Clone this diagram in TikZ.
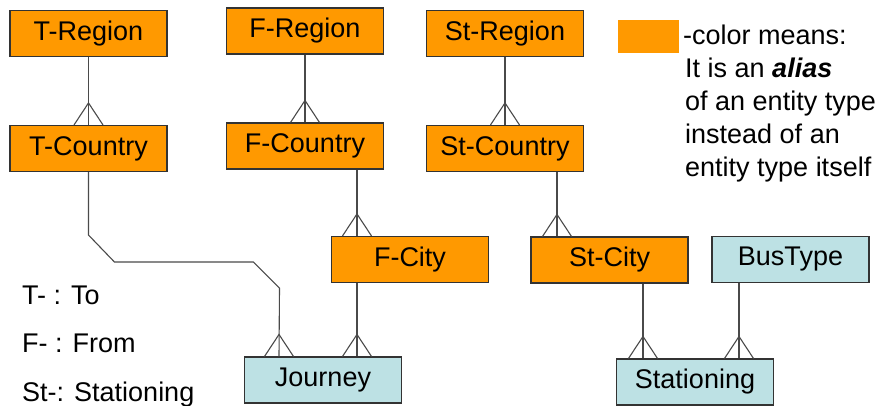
\documentclass[tikz,border=0pt]{standalone}
\usepackage{fontspec}
\setmainfont{Liberation Sans}
\definecolor{aliasorange}{HTML}{FF9900}
\definecolor{entityblue}{HTML}{BDE1E4}
\definecolor{linkgray}{HTML}{4A4A4A}
\begin{document}
\begin{tikzpicture}[x=1pt,y=-1pt,
  every node/.style={inner sep=0pt, font=\fontsize{27}{32}\selectfont},
  entbox/.style={draw=black!80, line width=1.1pt, minimum width=157pt, minimum height=46pt},
  alias/.style={entbox, fill=aliasorange},
  entity/.style={entbox, fill=entityblue},
  link/.style={draw=linkgray, line width=1.1pt},
  crow/.pic={\draw[link] (-14.5,0) -- (0,-22) -- (14.5,0);},
  legend/.style={anchor=base west}
]
\useasboundingbox (0,0) rectangle (881,406);
\fill[white] (0,0) rectangle (881,406);

% alias entity boxes
\node[alias] (tr) at (88.5,33.5) {T-Region};
\node[alias] (tc) at (88.5,148.5) {T-Country};
\node[alias] (fr) at (305,31) {F-Region};
\node[alias] (fc) at (305,146) {F-Country};
\node[alias] (sr) at (505,33.5) {St-Region};
\node[alias] (sc) at (505,148.5) {St-Country};
\node[alias] (fci) at (410,259.5) {F-City};
\node[alias] (sci) at (609.5,260) {St-City};

% real entity types
\node[entity] (bt) at (790.5,259.5) {BusType};
\node[entity] (jo) at (323,380) {Journey};
\node[entity] (st) at (695,382) {Stationing};

% x positions of the vertical links
\coordinate (xf) at (357,0);
\coordinate (xs) at (557,0);
\coordinate (xj) at (279,0);
\coordinate (xsc) at (643,0);
\coordinate (xbt) at (739,0);

% region -> country
\draw[link] (tr.south) -- (tc.north);
\pic at (tc.north) {crow};
\draw[link] (fr.south) -- (fc.north);
\pic at (fc.north) {crow};
\draw[link] (sr.south) -- (sc.north);
\pic at (sc.north) {crow};

% country -> city
\draw[link] (fc.south -| xf) -- (fci.north -| xf);
\pic at (fci.north -| xf) {crow};
\draw[link] (sc.south -| xs) -- (sci.north -| xs);
\pic at (sci.north -| xs) {crow};

% links into Journey
\draw[link] (tc.south) -- ++(0,63) -- ++(26,27) -- ++(139,0) -- ++(26,26) -- (jo.north -| xj);
\pic at (jo.north -| xj) {crow};
\draw[link] (fci.south -| xf) -- (jo.north -| xf);
\pic at (jo.north -| xf) {crow};

% links into Stationing
\draw[link] (sci.south -| xsc) -- (st.north -| xsc);
\pic at (st.north -| xsc) {crow};
\draw[link] (bt.south -| xbt) -- (st.north -| xbt);
\pic at (st.north -| xbt) {crow};

% colour key
\fill[aliasorange] (618,20) rectangle (679,53);
\node[legend] (k1) at (683,45) {-color means:};
\node[legend] (k2) at (685,78) {It is an \textbf{\textit{alias}}};
\node[legend] (k3) at (685,111) {of an entity type};
\node[legend] (k4) at (685,144) {instead of an};
\node[legend] (k5) at (685,177) {entity type itself};

% prefix key
\node[legend] (p1) at (22,304) {T- : To};
\node[legend] (p2) at (22,352) {F- : From};
\node[legend] (p3) at (22,401) {St-: Stationing};
\end{tikzpicture}
\end{document}
